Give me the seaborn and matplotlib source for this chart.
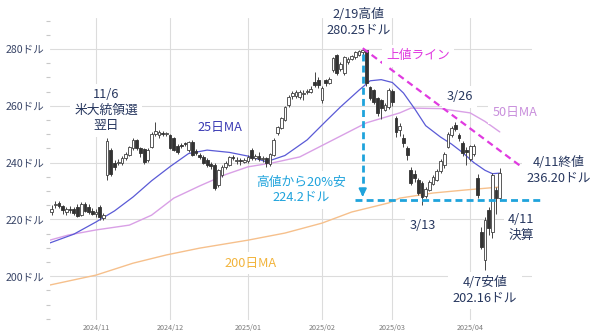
import numpy as np
import pandas as pd
import matplotlib
matplotlib.use("Agg")
import matplotlib.pyplot as plt
import seaborn as sns
from matplotlib.ticker import MultipleLocator, FixedLocator

# ---------------- data ----------------
holidays = ["2024-11-28", "2024-12-25", "2025-01-01", "2025-01-09", "2025-01-20", "2025-02-17"]
dates = [d for d in pd.bdate_range("2024-10-16", "2025-04-11") if d.strftime("%Y-%m-%d") not in holidays]

opens = [222.6, 225.0, 225.8, 224.6, 222.5, 223.5, 223.5, 224.5, 221.5, 225.5, 224.5, 223.0,
         222.0, 224.4, 220.6, 235.5, 244.5, 240.0, 239.8, 240.0, 241.5, 242.8, 245.0, 248.0,
         245.0, 244.8, 240.8, 245.5, 250.0, 249.8, 250.2, 250.0,
         249.7, 248.6, 246.0, 246.3, 246.8, 244.4, 247.3, 244.0, 242.7, 242.0, 241.0, 239.5,
         239.2, 232.0, 235.6, 238.5, 239.2, 242.0, 240.5, 240.8, 240.3,
         240.5, 244.4, 241.5, 242.5, 241.2, 241.5, 239.5, 242.7, 250.4, 252.2, 255.0, 260.3,
         263.5, 263.5, 263.0, 264.0, 265.0, 265.0, 268.4, 269.0,
         262.0, 269.0, 268.0, 272.6, 277.9, 273.0, 271.5, 275.5, 276.5, 277.0, 278.0, 279.0,
         279.5, 266.6, 265.6, 262.7, 262.0, 258.6, 259.6,
         265.3, 255.7, 251.5, 248.7, 245.0, 237.4, 236.0, 233.9, 232.8, 228.3, 230.4, 232.6,
         234.0, 237.0, 239.0, 245.5, 249.7, 253.2, 249.7, 247.0, 244.5,
         241.2, 243.0, 234.6, 215.5, 205.7, 223.3, 215.6, 230.4, 227.5]
highs = [225.0, 226.4, 226.6, 225.0, 224.5, 224.8, 224.2, 225.5, 226.2, 226.0, 225.6, 224.0,
         223.5, 225.0, 222.2, 248.7, 245.0, 241.0, 241.2, 242.2, 243.8, 246.0, 248.5, 248.3,
         245.5, 245.2, 245.3, 250.8, 254.3, 251.5, 251.0, 250.9,
         250.2, 249.0, 246.6, 247.0, 247.4, 247.6, 247.8, 244.8, 243.5, 242.6, 241.6, 240.2,
         239.8, 237.8, 239.0, 240.5, 242.3, 242.6, 241.8, 241.5, 241.6,
         242.8, 245.0, 243.2, 243.6, 242.3, 242.0, 243.5, 248.5, 253.0, 256.2, 260.0, 263.8,
         265.2, 265.5, 265.4, 265.5, 266.0, 266.8, 271.8, 270.0,
         266.8, 269.5, 270.3, 277.3, 278.4, 275.4, 277.6, 277.2, 278.0, 279.4, 279.8, 280.25,
         279.6, 267.0, 266.0, 263.0, 262.5, 261.0, 266.3,
         266.0, 256.5, 253.8, 250.0, 246.0, 238.5, 237.5, 234.5, 233.5, 231.5, 234.0, 235.5,
         237.8, 241.3, 243.6, 250.6, 253.0, 254.3, 250.3, 247.5, 245.5,
         246.3, 246.6, 236.0, 217.5, 221.0, 224.5, 236.5, 231.5, 238.0]
lows = [221.5, 224.0, 223.9, 222.0, 221.6, 222.2, 221.5, 220.8, 221.2, 222.5, 221.9, 221.4,
        221.0, 219.8, 219.9, 234.0, 235.3, 237.5, 239.0, 239.3, 240.8, 242.3, 244.5, 244.6,
        241.8, 239.5, 240.3, 245.1, 249.3, 248.8, 249.2, 249.4,
        244.8, 244.0, 243.2, 245.2, 245.8, 243.8, 242.2, 242.6, 241.2, 239.5, 238.6, 237.8,
        230.2, 231.5, 234.8, 237.8, 238.9, 240.8, 239.6, 239.2, 239.8,
        239.9, 241.0, 240.8, 240.6, 240.2, 238.5, 238.8, 242.3, 249.6, 251.8, 254.8, 259.6,
        262.5, 262.8, 262.3, 262.0, 264.0, 264.5, 266.5, 266.4,
        261.0, 267.0, 267.5, 272.0, 271.0, 272.4, 271.0, 274.8, 276.0, 276.5, 277.5, 277.8,
        266.8, 262.0, 260.8, 256.5, 255.4, 258.0, 259.0,
        260.0, 249.0, 249.5, 245.5, 241.0, 232.0, 233.0, 228.5, 225.1, 227.5, 230.0, 232.0,
        233.4, 236.5, 238.2, 245.0, 249.0, 251.2, 247.5, 242.5, 239.2,
        240.5, 242.3, 227.5, 209.5, 202.16, 214.5, 213.5, 222.0, 226.5]
closes = [223.8, 225.3, 224.6, 223.2, 223.6, 223.2, 222.2, 221.3, 225.5, 223.0, 222.6, 222.0,
          222.6, 220.8, 221.6, 247.5, 236.0, 238.6, 240.2, 241.5, 243.0, 245.5, 247.8, 245.2,
          243.3, 240.2, 244.5, 250.2, 251.0, 250.6, 250.0, 250.3,
          245.3, 244.5, 243.8, 246.0, 246.4, 247.3, 242.7, 243.3, 241.8, 240.0, 239.2, 238.7,
          231.0, 237.4, 238.5, 240.0, 242.0, 241.5, 241.0, 240.5, 241.0,
          241.8, 241.6, 242.5, 241.3, 241.5, 239.8, 243.0, 248.0, 252.5, 255.7, 259.6, 263.0,
          264.6, 264.8, 264.8, 264.5, 265.1, 266.0, 267.2, 267.3,
          266.3, 268.0, 269.6, 276.8, 271.5, 274.8, 277.0, 276.5, 277.5, 279.0, 279.3, 279.8,
          268.0, 262.7, 261.3, 257.5, 259.2, 260.3, 265.4,
          261.2, 250.8, 253.0, 247.0, 242.7, 232.8, 234.5, 229.3, 227.9, 230.8, 233.2, 234.8,
          237.0, 240.5, 243.0, 250.0, 252.2, 252.0, 248.5, 243.4, 243.8,
          245.7, 245.7, 228.6, 210.3, 219.8, 217.0, 235.6, 227.5, 236.2]

# moving averages (trading-day position, value)
ma25_pos = [-0.5, 6, 12, 17, 22, 27, 32, 37, 42, 48, 53, 58, 63, 69, 74, 78, 83, 86, 89, 92,
            95, 98, 101, 105, 108, 111, 114, 117, 119, 121]
ma25_val = [211.7, 214.8, 219.1, 223.0, 227.9, 233.6, 238.6, 243.2, 244.4, 243.6, 242.3, 240.3,
            242.5, 248.0, 254.5, 259.6, 265.5, 268.8, 269.2, 268.2, 264.5, 259.0, 253.0, 249.0,
            246.5, 243.5, 240.0, 237.3, 236.1, 236.3]
ma50_pos = [-0.5, 4.5, 12, 21, 27, 33, 40, 47, 53, 60, 67, 76, 85, 94, 97, 105, 113, 117, 121]
ma50_val = [212.7, 214.5, 216.3, 218.0, 221.5, 227.5, 231.8, 235.8, 238.5, 240.0, 242.0, 248.0,
            254.0, 257.5, 259.2, 259.0, 257.5, 254.5, 250.8]
ma200_pos = [-0.5, 12, 22, 31, 40, 53, 63, 73, 81, 91, 94, 103, 112, 121]
ma200_val = [196.9, 200.4, 204.6, 207.5, 209.9, 212.7, 215.2, 218.7, 222.6, 225.8, 227.5, 229.3,
             230.4, 231.4]

peak_pos, peak_val = 84, 280.25
drop_level = 226.7
line_end_pos, line_end_val = 127.3, 238.1

y_ticks = [200, 220, 240, 260, 280]
month_labels = ["2024/11", "2024/12", "2025/01", "2025/02", "2025/03", "2025/04"]

# ---------------- styling ----------------
sns.set_theme(style="white")
plt.rcParams["font.family"] = ["Noto Sans CJK JP", "DejaVu Sans"]

NAVY = "#27375f"
CYAN = "#1fa3dc"
MAGENTA = "#e03ae0"
BLUE = "#5a5ad6"
VIOLET = "#d9a0e6"
ORANGE = "#f6c08c"
GRID = "#dcdcdc"

fig = plt.figure(figsize=(6.0, 3.34), dpi=100)
ax = fig.add_axes([50 / 600, 1 - 320 / 334, 482 / 600, 302 / 334])

df = pd.DataFrame({"date": dates, "open": opens, "high": highs, "low": lows, "close": closes})
df["pos"] = np.arange(len(df))

# moving averages
sns.lineplot(x=ma200_pos, y=ma200_val, ax=ax, color=ORANGE, lw=1.0, zorder=2)
sns.lineplot(x=ma50_pos, y=ma50_val, ax=ax, color=VIOLET, lw=1.0, zorder=2)
sns.lineplot(x=ma25_pos, y=ma25_val, ax=ax, color=BLUE, lw=0.9, zorder=2)

# candles
up = df["close"] >= df["open"]
ax.vlines(df["pos"], df["low"], df["high"], color="#454545", lw=0.7, zorder=3)
body_lo = np.minimum(df["open"], df["close"])
body_h = np.maximum(np.abs(df["close"] - df["open"]), 0.35)
ax.bar(df["pos"][up], body_h[up], bottom=body_lo[up], width=0.74, color="white",
       edgecolor="#404040", linewidth=0.6, zorder=4)
ax.bar(df["pos"][~up], body_h[~up], bottom=body_lo[~up], width=0.74, color="#333333",
       edgecolor="#333333", linewidth=0.6, zorder=4)

# resistance line
ax.plot([peak_pos, line_end_pos], [peak_val, line_end_val], color=MAGENTA, lw=1.6,
        ls=(0, (3, 2)), zorder=5)
# 20% drop arrow and level
ax.plot([peak_pos, peak_pos], [peak_val - 2.0, drop_level + 3.0], color=CYAN, lw=2.0,
        ls=(0, (2.5, 1.5)), zorder=5)
ax.annotate("", xy=(peak_pos, drop_level + 0.3), xytext=(peak_pos, drop_level + 3.5),
            arrowprops=dict(arrowstyle="-|>", color=CYAN, lw=1.5, mutation_scale=11), zorder=5)
ax.plot([82, 132.3], [drop_level, drop_level], color=CYAN, lw=2.0, ls=(0, (2.5, 1.5)),
        zorder=5, clip_on=False)

# axes
ax.set_xlim(-0.42, 129.7)
ax.set_ylim(184.6, 290.9)
month_pos = [int(df.index[(df["date"].dt.month == m) & (df["date"].dt.year == y)][0])
             for y, m in [(2024, 11), (2024, 12), (2025, 1), (2025, 2), (2025, 3), (2025, 4)]]
ax.xaxis.set_major_locator(FixedLocator(month_pos))
ax.set_xticklabels(month_labels, fontsize=5.2, color="#7a7a7a")
ax.yaxis.set_major_locator(FixedLocator(y_ticks))
ax.set_yticklabels([f"{v}ドル" for v in y_ticks], fontsize=7.6, color="#3a4668")
ax.yaxis.set_minor_locator(MultipleLocator(5))
ax.tick_params(axis="y", which="major", length=0, pad=4)
ax.tick_params(axis="y", which="minor", length=3, color="#c8c8c8", width=0.8, left=True)
ax.tick_params(axis="x", which="major", length=0, pad=3)
ax.grid(True, which="major", color=GRID, lw=0.8)
ax.set_axisbelow(True)
for s in ax.spines.values():
    s.set_visible(False)
ax.set_xlabel("")
ax.set_ylabel("")

box = dict(boxstyle="square,pad=0.35", fc="white", ec="none")
def label(x, y, s, color=NAVY, size=9.2, bg=True):
    ax.text(x, y, s, ha="center", va="center", fontsize=size, color=color,
            linespacing=1.25, zorder=6, clip_on=False, bbox=box if bg else None)

label(14.7, 258.5, "11/6\n米大統領選\n翌日")
label(45.5, 252.2, "25日MA", color="#3b3bb4")
label(82.8, 289.3, "2/19高値\n280.25ドル", bg=False)
label(98.9, 277.6, "上値ライン", color=MAGENTA)
label(110.2, 263.1, "3/26")
label(125.2, 257.5, "50日MA", color="#c98fdc")
label(137.0, 237.4, "4/11終値\n236.20ドル")
label(67.4, 230.4, "高値から20%安\n224.2ドル", color=CYAN)
label(100.2, 218.0, "3/13")
label(126.8, 217.1, "4/11\n決算")
label(117.0, 195.0, "4/7安値\n202.16ドル")
label(53.6, 204.6, "200日MA", color="#f2b43c")

fig.savefig("out.png", dpi=100)
